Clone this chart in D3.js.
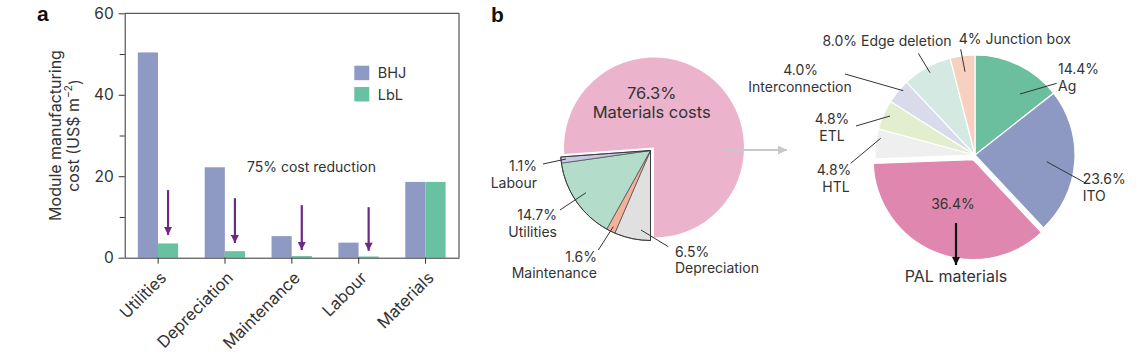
<!DOCTYPE html>
<html><head><meta charset="utf-8">
<script src="https://cdn.jsdelivr.net/npm/d3@7"></script>
<style>
body{margin:0;background:#fff;}
svg{display:block;font-family:Inter,"Noto Sans",sans-serif;}
</style></head><body><svg id="c" width="1140" height="355"></svg>
<script>
// ---------- data ----------
const categories = ["Utilities","Depreciation","Maintenance","Labour","Materials"];
const seriesNames = ["BHJ","LbL"];
const bhjValues = [50.4, 22.2, 5.3, 3.7, 18.6];
const lblValues = [3.5, 1.6, 0.4, 0.3, 18.6];
const yTicks = [0,20,40,60];
const yMinorTicks = [10,30,50];
const arrowTop = [16.6, 14.6, 12.9, 12.4];
const arrowBottom = [5.6, 3.6, 1.9, 1.7];

const overallLabels = ["Depreciation","Maintenance","Utilities","Labour","Materials costs"];
const overallValues = [6.5, 1.6, 14.7, 1.1, 76.3];
const overallPct = ["6.5%","1.6%","14.7%","1.1%","76.3%"];

const materialLabels = ["Ag","ITO","PAL materials","HTL","ETL","Interconnection","Edge deletion","Junction box"];
const materialValues = [14.4, 23.6, 36.4, 4.8, 4.8, 4.0, 8.0, 4];
const materialPct = ["14.4%","23.6%","36.4%","4.8%","4.8%","4.0%","8.0%","4%"];

// ---------- styles / layout ----------
const barColors = {BHJ:"#8f9ac4", LbL:"#68c1a1"};
const overallColors = ["#e0e0e0","#f4b29c","#b3dccb","#c6c9e4","#ebb4cc"];
const materialColors = ["#6bbf9f","#8e99c3","#df87ae","#efefef","#e3eecf","#d9daea","#d3e9e1","#f8d0c0"];
const ink = "#333";
const svg = d3.select("#c");

const defs = svg.append("defs");
function marker(id, color, w, h){
  defs.append("marker").attr("id",id).attr("viewBox","0 0 10 10").attr("refX",10).attr("refY",5)
    .attr("markerUnits","userSpaceOnUse").attr("markerWidth",w).attr("markerHeight",h).attr("orient","auto")
    .append("path").attr("d","M0,0 L10,5 L0,10 Z").attr("fill",color);
}
marker("mPurple","#6c2a83",9,8);
marker("mGrey","#c8c8c8",9,9);
marker("mBlack","#111",10,8);

// ---------- panel a ----------
const X0=124.7, X1=459, Y0=257.7, Y1=13.3;
const x = d3.scaleBand().domain(categories).range([X0,X1]).padding(0);
const xs = d3.scaleBand().domain(seriesNames).range([-20.3,20]);
const y = d3.scaleLinear().domain([0,60]).range([Y0,Y1]);

const gA = svg.append("g");
const barData = [];
categories.forEach((c,i)=>{
  barData.push({c, s:"BHJ", v:bhjValues[i]});
  barData.push({c, s:"LbL", v:lblValues[i]});
});
gA.selectAll("rect.bar").data(barData).join("rect").attr("class","bar")
  .attr("x",d=>x(d.c)+x.bandwidth()/2+xs(d.s))
  .attr("width",xs.bandwidth())
  .attr("y",d=>y(d.v)).attr("height",d=>y(0)-y(d.v))
  .attr("fill",d=>barColors[d.s]);

// frame
gA.append("line").attr("x1",X0).attr("x2",X1).attr("y1",Y1).attr("y2",Y1).attr("stroke",ink);
gA.append("line").attr("x1",X1).attr("x2",X1).attr("y1",Y1).attr("y2",Y0).attr("stroke",ink);

const yAxis = gA.append("g").attr("transform",`translate(${X0},0)`)
  .call(d3.axisLeft(y).tickValues(yTicks).tickSize(6).tickSizeOuter(0).tickPadding(5));
gA.append("g").attr("transform",`translate(${X0},0)`)
  .call(d3.axisLeft(y).tickValues(yMinorTicks).tickSize(5).tickSizeOuter(0).tickFormat(""))
  .select(".domain").remove();
const xAxis = gA.append("g").attr("transform",`translate(0,${Y0})`)
  .call(d3.axisBottom(x).tickSize(6).tickSizeOuter(0).tickPadding(0));
gA.selectAll(".domain").attr("stroke",ink);
gA.selectAll(".tick line").attr("stroke",ink);
yAxis.selectAll("text").attr("font-size",15.5).attr("fill",ink).attr("font-family","Inter");
xAxis.selectAll("text").attr("font-size",16.5).attr("fill",ink).attr("font-family","Inter")
  .attr("text-anchor","end").attr("dy",0)
  .attr("transform","translate(5,17) rotate(-45)");

// arrows
categories.slice(0,4).forEach((c,i)=>{
  const ax = x(c)+x.bandwidth()/2+xs("LbL")+xs.bandwidth()/2;
  gA.append("line").attr("x1",ax).attr("x2",ax).attr("y1",y(arrowTop[i])).attr("y2",y(arrowBottom[i]))
    .attr("stroke","#6c2a83").attr("stroke-width",2.2).attr("marker-end","url(#mPurple)");
});
gA.append("text").attr("x",247).attr("y",167).attr("dy","0.35em").attr("font-size",14).attr("fill",ink)
  .text("75% cost reduction");

// legend
seriesNames.forEach((s,i)=>{
  gA.append("rect").attr("x",354.3).attr("y",65.7+i*21.3).attr("width",15).attr("height",14.5).attr("fill",barColors[s]);
  gA.append("text").attr("x",377.7).attr("y",73+i*21.8).attr("dy","0.35em").attr("font-size",14.5).attr("fill",ink).text(s);
});

// y label
gA.append("text").attr("transform","translate(55,135.5) rotate(-90)").attr("text-anchor","middle")
  .attr("dy","0.35em").attr("font-size",16).attr("fill",ink).text("Module manufacturing");
const yl2 = gA.append("text").attr("transform","translate(73,135.5) rotate(-90)").attr("text-anchor","middle")
  .attr("dy","0.35em").attr("font-size",16).attr("fill",ink);
yl2.append("tspan").text("cost (US$ m");
yl2.append("tspan").attr("font-size",10.5).attr("dy","-0.6em").text("\u22122");
yl2.append("tspan").attr("dy","0.55em").text(")");

svg.append("text").attr("x",37).attr("y",21).attr("font-size",21).attr("font-weight","bold")
  .attr("font-family","Liberation Sans, Arial").attr("fill","#111").text("a");
svg.append("text").attr("x",491).attr("y",21.5).attr("font-size",21).attr("font-weight","bold")
  .attr("font-family","Liberation Sans, Arial").attr("fill","#111").text("b");

// ---------- panel b: overall pie ----------
const rL = 90;
const pieL = d3.pie().sort(null).startAngle(Math.PI).endAngle(3*Math.PI)(overallValues);
const arcL = d3.arc().innerRadius(0).outerRadius(rL);
const gL = svg.append("g").attr("transform","translate(654,147.5)");
gL.append("path").attr("d",arcL(pieL[4])).attr("fill",overallColors[4]);
const gLg = svg.append("g").attr("transform","translate(650.5,150.5)");
gLg.append("path").attr("d",d3.arc().innerRadius(0).outerRadius(rL+1.2)({startAngle:pieL[0].startAngle,endAngle:pieL[3].endAngle}))
  .attr("fill","#fff");
gLg.selectAll("path.s").data(pieL.slice(0,4)).join("path").attr("class","s")
  .attr("d",arcL).attr("fill",(d,i)=>overallColors[i]).attr("stroke","#444").attr("stroke-width",0.7);
gLg.append("path").attr("d",arcL({startAngle:pieL[0].startAngle,endAngle:pieL[3].endAngle}))
  .attr("fill","none").attr("stroke","#333").attr("stroke-width",0.9);

function label(x0,y0,lines,anchor,size){
  const t = svg.append("g");
  lines.forEach((s,i)=>{
    t.append("text").attr("x",x0[i]).attr("y",y0[i]).attr("dy","0.35em").attr("text-anchor",anchor)
      .attr("font-size",size).attr("fill",ink).text(s);
  });
}
function leader(x1,y1,x2,y2){
  svg.append("line").attr("x1",x1).attr("y1",y1).attr("x2",x2).attr("y2",y2).attr("stroke",ink).attr("stroke-width",1);
}
label([651.7,651.7],[93.3,112.3],[overallPct[4],overallLabels[4]],"middle",16.5);
label([537,537],[165.7,182.7],[overallPct[3],overallLabels[3]],"end",14);
label([557,557],[215,231.7],[overallPct[2],overallLabels[2]],"end",14);
label([597,597],[256.7,272.7],[overallPct[1],overallLabels[1]],"end",14);
label([675,675],[251.7,268.3],[overallPct[0],overallLabels[0]],"start",14);
leader(543,164,566,159);
leader(560,210,586,192.7);
leader(598.3,250,613.3,226.7);
leader(668.3,246.7,641,230);

// connector arrow
svg.append("line").attr("x1",724).attr("y1",150).attr("x2",787).attr("y2",150)
  .attr("stroke","#c8c8c8").attr("stroke-width",2).attr("marker-end","url(#mGrey)");

// ---------- panel b: materials pie ----------
const rR = 100, cxR = 975, cyR = 155;
const pieR = d3.pie().sort(null).startAngle(0).endAngle(2*Math.PI)(materialValues);
const arcR = d3.arc().innerRadius(0).outerRadius(rR);
const gR = svg.append("g").attr("transform",`translate(${cxR},${cyR})`);
gR.selectAll("path").data(pieR).join("path")
  .attr("transform",(d,i)=>{
    if(i!==2) return null;
    const a=(d.startAngle+d.endAngle)/2, off=5;
    return `translate(${off*Math.sin(a)},${-off*Math.cos(a)})`;
  })
  .attr("d",arcR).attr("fill",(d,i)=>materialColors[i]).attr("stroke","#fff").attr("stroke-width",1.2);

label([887],[40.7],[materialPct[6]+" "+materialLabels[6]],"middle",14);
label([1014.8],[39.3],[materialPct[7]+" "+materialLabels[7]],"middle",14);
label([800.7,800],[70,86.7],[materialPct[5],materialLabels[5]],"middle",14);
label([832,832],[119.3,136],[materialPct[4],materialLabels[4]],"middle",14);
label([834,836],[170,186.7],[materialPct[3],materialLabels[3]],"middle",14);
label([1058,1058],[69.3,86],[materialPct[0],materialLabels[0]],"start",14);
label([1082.7,1082.7],[179,196],[materialPct[1],materialLabels[1]],"start",14);
label([953],[204],[materialPct[2]],"middle",14);
label([956],[276],[materialLabels[2]],"middle",16);
leader(918.3,53.3,930,72.7);
leader(960.7,49.3,965,71.7);
leader(845,74,903.3,90.7);
leader(856,126,890,116);
leader(850.7,163.3,880.7,138.3);
leader(1020,94,1056.7,83.3);
leader(1046.7,161.7,1086,183.3);
svg.append("line").attr("x1",956).attr("y1",223).attr("x2",956).attr("y2",265)
  .attr("stroke","#111").attr("stroke-width",2.2).attr("marker-end","url(#mBlack)");
</script></body></html>
